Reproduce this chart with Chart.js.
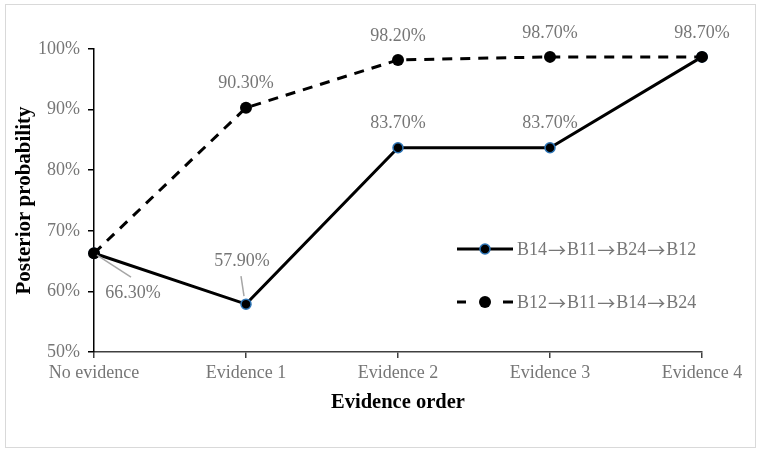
<!DOCTYPE html>
<html>
<head>
<meta charset="utf-8">
<script src="https://cdn.jsdelivr.net/npm/chart.js@4"></script>
<style>
  body { margin: 0; background: #fff; }
  #wrap { width: 764px; height: 455px; }
</style>
</head>
<body>
<div id="wrap"><canvas id="posteriorChart" width="764" height="455"></canvas></div>
<script>
const categories = ['No evidence', 'Evidence 1', 'Evidence 2', 'Evidence 3', 'Evidence 4'];
const orderA = 'B14\u2192B11\u2192B24\u2192B12';
const orderB = 'B12\u2192B11\u2192B14\u2192B24';
const seriesA = [66.3, 57.9, 83.7, 83.7, 98.7];
const seriesB = [66.3, 90.3, 98.2, 98.7, 98.7];
const yMin = 50;
const yMax = 100;
const yStep = 10;

const serif = '"Liberation Serif", "Times New Roman", serif';
const arrowFont = '"Noto Sans CJK SC", "DejaVu Sans", sans-serif';
const grey = '#767676';

// where each value label sits relative to its point (null = not shown)
const labelPlacement = [
  [{ dx: 39, dy: 40, leader: [3, 2, 37, 24] }, { dx: -4, dy: -43, leader: [-5, -28, -2, -8] }, { dx: 0, dy: -25 }, { dx: 0, dy: -25 }, null],
  [null, { dx: 0, dy: -25 }, { dx: 0, dy: -24 }, { dx: 0, dy: -24 }, { dx: 0, dy: -24 }],
];

const bgAndBorder = {
  id: 'bgAndBorder',
  beforeDraw(chart) {
    const ctx = chart.ctx;
    ctx.save();
    ctx.fillStyle = '#fff';
    ctx.fillRect(0, 0, chart.width, chart.height);
    ctx.strokeStyle = '#d9d9d9';
    ctx.lineWidth = 1;
    ctx.strokeRect(5.5, 4.5, 750, 443);
    ctx.restore();
  },
};

const valueLabels = {
  id: 'valueLabels',
  afterDatasetsDraw(chart) {
    const ctx = chart.ctx;
    ctx.save();
    ctx.font = '18px ' + serif;
    ctx.textAlign = 'center';
    ctx.textBaseline = 'middle';
    chart.data.datasets.forEach((ds, di) => {
      const meta = chart.getDatasetMeta(di);
      meta.data.forEach((pt, i) => {
        const place = labelPlacement[di][i];
        if (!place) return;
        if (place.leader) {
          const [x1, y1, x2, y2] = place.leader;
          ctx.strokeStyle = '#a6a6a6';
          ctx.lineWidth = 1.5;
          ctx.beginPath();
          ctx.moveTo(pt.x + x1, pt.y + y1);
          ctx.lineTo(pt.x + x2, pt.y + y2);
          ctx.stroke();
        }
        ctx.fillStyle = grey;
        ctx.fillText(ds.data[i].toFixed(2) + '%', pt.x + place.dx, pt.y + place.dy);
      });
    });
    ctx.restore();
  },
};

// legend text: names in serif, arrows from a font with a full-width arrow
const drawOrderText = (ctx, text, x, y) => {
  text.split('\u2192').forEach((part, k) => {
    if (k > 0) {
      ctx.font = '18px ' + arrowFont;
      ctx.fillText('\u2192', x, y);
      x += ctx.measureText('\u2192').width + 1;
    }
    ctx.font = '18px ' + serif;
    ctx.fillText(part, x, y);
    x += ctx.measureText(part).width + 1;
  });
};

const innerLegend = {
  id: 'innerLegend',
  afterDraw(chart) {
    const ctx = chart.ctx;
    const x0 = 457, x1 = 513, mx = 485;
    const rows = [249, 302];
    ctx.save();
    chart.data.datasets.forEach((ds, di) => {
      const y = rows[di];
      ctx.strokeStyle = ds.borderColor;
      ctx.lineWidth = ds.borderWidth;
      ctx.beginPath();
      if (ds.borderDash) {
        ctx.moveTo(x0, y); ctx.lineTo(x0 + 9, y);
        ctx.moveTo(x1 - 10, y); ctx.lineTo(x1, y);
      } else {
        ctx.moveTo(x0, y); ctx.lineTo(x1, y);
      }
      ctx.stroke();
      ctx.beginPath();
      ctx.arc(mx, y, ds.pointRadius, 0, Math.PI * 2);
      ctx.fillStyle = ds.pointBackgroundColor;
      ctx.fill();
      if (ds.pointBorderWidth) {
        ctx.strokeStyle = ds.pointBorderColor;
        ctx.lineWidth = ds.pointBorderWidth;
        ctx.stroke();
      }
      ctx.fillStyle = grey;
      ctx.textAlign = 'left';
      ctx.textBaseline = 'middle';
      drawOrderText(ctx, ds.label, 517, y + 1);
    });
    ctx.restore();
  },
};

new Chart(document.getElementById('posteriorChart'), {
  type: 'line',
  data: {
    labels: categories,
    datasets: [
      {
        label: orderA,
        data: seriesA,
        borderColor: '#000',
        borderWidth: 3,
        pointRadius: 5,
        pointBackgroundColor: '#000',
        pointBorderColor: '#2e75b6',
        pointBorderWidth: 1.5,
        tension: 0,
        order: 1,
      },
      {
        label: orderB,
        data: seriesB,
        borderColor: '#000',
        borderWidth: 3,
        borderDash: [10, 8],
        pointRadius: 6,
        pointBackgroundColor: '#000',
        pointBorderColor: '#000',
        pointBorderWidth: 0,
        tension: 0,
        order: 0,
      },
    ],
  },
  options: {
    responsive: false,
    animation: false,
    layout: { padding: { left: 0, top: 49, right: 62, bottom: 0 } },
    plugins: {
      legend: { display: false },
      tooltip: { enabled: false },
    },
    scales: {
      x: {
        offset: false,
        grid: { display: true, drawOnChartArea: false, drawTicks: true, tickLength: 6, color: '#404040', lineWidth: 1.5 },
        border: { display: true, color: '#404040', width: 1.5 },
        ticks: { color: grey, font: { family: serif, size: 18 }, padding: 4, maxRotation: 0, autoSkip: false },
        title: { display: true, text: 'Evidence order', color: '#000', font: { family: serif, size: 20.5, weight: 'bold' }, padding: { top: 0, bottom: 40 } },
        afterFit(scale) { scale.height = 103; },
      },
      y: {
        min: yMin,
        max: yMax,
        grid: { display: true, drawOnChartArea: false, drawTicks: true, tickLength: 6, color: '#000', lineWidth: 1.5 },
        border: { display: true, color: '#000', width: 1.5 },
        ticks: { stepSize: yStep, color: grey, font: { family: serif, size: 18 }, padding: 8, callback: (v) => v + '%' },
        title: { display: true, text: 'Posterior probability', color: '#000', font: { family: serif, size: 21, weight: 'bold' }, padding: { top: 12, bottom: 0 } },
        afterFit(scale) { scale.width = 94; },
      },
    },
  },
  plugins: [bgAndBorder, valueLabels, innerLegend],
});
</script>
</body>
</html>
